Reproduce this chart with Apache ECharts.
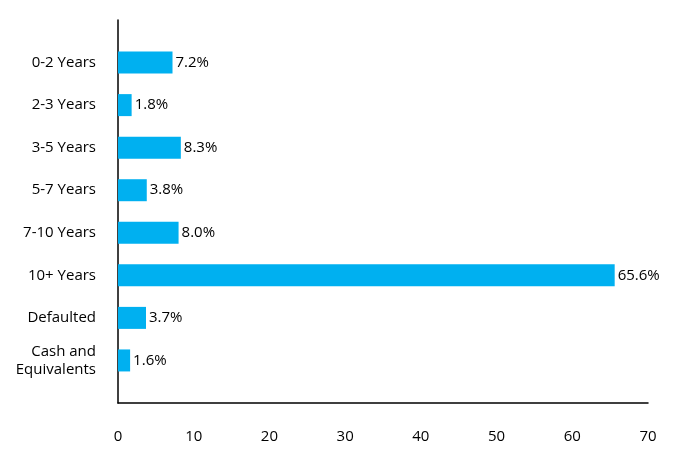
<!DOCTYPE html>
<html>
<head>
<meta charset="utf-8">
<script src="https://cdn.jsdelivr.net/npm/echarts@6/dist/echarts.min.js"></script>
<style>html,body{margin:0;padding:0;background:#fff}#chart{width:696px;height:468px}</style>
</head>
<body>
<div id="chart"></div>
<script>
// 数据
const categories = ['0-2 Years', '2-3 Years', '3-5 Years', '5-7 Years', '7-10 Years', '10+ Years', 'Defaulted', 'Cash and\nEquivalents'];
const values = [7.2, 1.8, 8.3, 3.8, 8.0, 65.6, 3.7, 1.6];
const xTicks = [0, 10, 20, 30, 40, 50, 60, 70];

// 上下各留一个空位
const yCats = [''].concat(categories, ['']);
const yData = [null].concat(values, [null]);

const chart = echarts.init(document.getElementById('chart'));
chart.setOption({
    animation: false,
    textStyle: { fontFamily: 'Open Sans' },
    grid: { left: 118, right: 48, top: 20, bottom: 65 },
    xAxis: {
        type: 'value', min: xTicks[0], max: xTicks[xTicks.length - 1], interval: 10,
        splitLine: { show: false },
        axisLine: { show: true, lineStyle: { color: '#000', width: 1.5 } },
        axisTick: { show: false },
        axisLabel: { color: '#000', fontSize: 15, margin: 26 }
    },
    yAxis: {
        type: 'category', inverse: true, boundaryGap: false, data: yCats,
        axisLine: { show: true, lineStyle: { color: '#000', width: 1.5 } },
        axisTick: { show: false },
        axisLabel: { color: '#000', fontSize: 15, margin: 22, lineHeight: 18, interval: 0 }
    },
    series: [{
        type: 'bar', barWidth: 22,
        itemStyle: { color: '#00B0F0' },
        label: { show: true, position: 'right', distance: 3, color: '#000', fontSize: 15, formatter: p => p.value.toFixed(1) + '%' },
        data: yData
    }]
});
</script>
</body>
</html>
